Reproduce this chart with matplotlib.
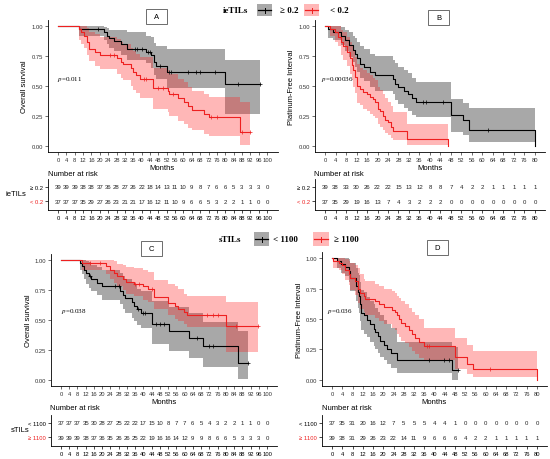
import numpy as np
import matplotlib
matplotlib.use("Agg")
import matplotlib.pyplot as plt
from matplotlib.patches import Rectangle

plt.rcParams['font.family'] = ['Liberation Sans', 'DejaVu Sans']
plt.rcParams['mathtext.fontset'] = 'stix'

W, H = 550, 460
RED = "#ee2020"
GREY_FILL = "#7a7a7a"
RED_FILL = "#ff2020"

# ---------------- Panel A : overall survival by ieTILs ----------------
a_hi_t = [0, 10, 22, 23.5, 24.5, 27, 30, 33, 42, 44.5, 46, 47, 52, 80]
a_hi_s = [1.0, 0.974, 0.948, 0.92, 0.897, 0.872, 0.846, 0.81, 0.78, 0.755, 0.70, 0.67, 0.62, 0.52]
a_hi_lo = [1.0, 0.92, 0.88, 0.85, 0.82, 0.79, 0.76, 0.72, 0.69, 0.65, 0.59, 0.56, 0.48, 0.27]
a_hi_up = [1.0, 1.0, 0.99, 0.98, 0.97, 0.97, 0.97, 0.95, 0.92, 0.91, 0.86, 0.83, 0.81, 0.72]
a_hi_end = 96.5
a_hi_cens = [19, 37, 38, 40, 43, 44, 49, 53, 54, 62, 66, 68, 75, 86, 96.5]

a_lo_t = [0, 10, 11, 12.5, 14, 15, 17.5, 20, 28, 30, 31, 35, 36, 37.5, 39, 45.5, 52.5, 53, 57.5,
          60.5, 62, 64, 70, 72, 87]
a_lo_s = [1.0, 0.973, 0.946, 0.919, 0.865, 0.811, 0.784, 0.757, 0.73, 0.70, 0.68, 0.65, 0.62, 0.59,
          0.56, 0.48, 0.46, 0.43, 0.40, 0.37, 0.33, 0.30, 0.27, 0.245, 0.12]
a_lo_lo = [1.0, 0.88, 0.85, 0.82, 0.755, 0.71, 0.67, 0.64, 0.60, 0.57, 0.55, 0.50, 0.47, 0.44, 0.40,
           0.31, 0.28, 0.25, 0.21, 0.18, 0.15, 0.13, 0.10, 0.08, 0.01]
a_lo_up = [1.0, 1.0, 1.0, 1.0, 0.98, 0.95, 0.93, 0.91, 0.89, 0.87, 0.85, 0.82, 0.79, 0.77, 0.74,
           0.65, 0.63, 0.60, 0.56, 0.53, 0.49, 0.46, 0.43, 0.41, 0.37]
a_lo_end = 92
a_lo_cens = [25, 27, 41, 42, 48, 50, 55, 73, 76, 88, 92]

# ---------------- Panel B : platinum-free interval by ieTILs ----------------
b_hi_t = [0, 1, 3, 6, 7.5, 9, 10.5, 11.3, 12.3, 13.5, 15, 17, 19, 26, 26.7, 28, 30, 31.7, 33, 34.5,
          48, 52.5, 55, 80]
b_hi_s = [1.0, 0.975, 0.952, 0.919, 0.88, 0.84, 0.80, 0.77, 0.73, 0.686, 0.658, 0.616, 0.588, 0.56,
          0.518, 0.49, 0.46, 0.434, 0.40, 0.37, 0.26, 0.22, 0.13, 0.0]
b_hi_lo = [1.0, 0.90, 0.88, 0.84, 0.79, 0.74, 0.70, 0.66, 0.62, 0.57, 0.54, 0.49, 0.46, 0.43, 0.38,
           0.35, 0.32, 0.29, 0.26, 0.24, 0.12, 0.09, 0.03, 0.0]
b_hi_up = [1.0, 1.0, 1.0, 0.99, 0.97, 0.95, 0.92, 0.90, 0.87, 0.83, 0.81, 0.77, 0.75, 0.72, 0.69,
           0.66, 0.63, 0.61, 0.57, 0.53, 0.39, 0.36, 0.32, 0.32]
b_hi_end = 80
b_hi_cens = [37.5, 38.5, 45, 62]

b_lo_t = [0, 2, 3.8, 5, 6, 7, 8.3, 9.5, 10.2, 10.8, 11.4, 12.3, 13.3, 14.6, 15.9, 17, 18.4, 19.2,
          20, 20.9, 22, 23, 24, 25, 26, 31.2, 47]
b_lo_s = [1.0, 0.973, 0.946, 0.91, 0.865, 0.83, 0.784, 0.73, 0.676, 0.63, 0.574, 0.50, 0.475, 0.45,
          0.43, 0.41, 0.39, 0.37, 0.31, 0.29, 0.25, 0.22, 0.196, 0.16, 0.126, 0.06, 0.0]
b_lo_lo = [1.0, 0.92, 0.87, 0.83, 0.76, 0.72, 0.67, 0.60, 0.55, 0.49, 0.44, 0.36, 0.34, 0.31, 0.29,
           0.27, 0.25, 0.23, 0.18, 0.16, 0.13, 0.11, 0.09, 0.07, 0.05, 0.01, 0.0]
b_lo_up = [1.0, 1.0, 1.0, 1.0, 0.97, 0.95, 0.91, 0.87, 0.83, 0.79, 0.74, 0.68, 0.65, 0.63, 0.61,
           0.59, 0.57, 0.55, 0.49, 0.47, 0.43, 0.40, 0.37, 0.33, 0.28, 0.18, 0.18]
b_lo_end = 47
b_lo_cens = []

# ---------------- Panel C : overall survival by sTILs ----------------
c_lo_t = [0, 9.4, 10.2, 11, 12.1, 13.4, 14.7, 17.5, 20, 28.8, 30, 31, 34.5, 35.3, 37, 38.8, 44.2,
          52.3, 62, 69, 86]
c_lo_s = [1.0, 0.973, 0.946, 0.92, 0.89, 0.865, 0.838, 0.81, 0.78, 0.74, 0.71, 0.68, 0.65, 0.62,
          0.59, 0.56, 0.47, 0.41, 0.35, 0.28, 0.14]
c_lo_lo = [1.0, 0.92, 0.88, 0.84, 0.80, 0.77, 0.74, 0.71, 0.67, 0.63, 0.59, 0.56, 0.52, 0.49, 0.46,
           0.43, 0.30, 0.24, 0.18, 0.11, 0.01]
c_lo_up = [1.0, 1.0, 1.0, 1.0, 0.99, 0.98, 0.96, 0.94, 0.92, 0.89, 0.87, 0.84, 0.81, 0.79, 0.76,
           0.74, 0.66, 0.61, 0.56, 0.48, 0.41]
c_lo_end = 91
c_lo_cens = [14, 26, 28, 37.5, 40, 41, 46, 48, 50, 66, 72, 74, 91]

c_hi_t = [0, 10, 22, 24, 25.5, 27, 30, 31.5, 35.5, 40, 42, 45, 52, 55.5, 57, 59.5, 61, 80]
c_hi_s = [1.0, 0.974, 0.948, 0.92, 0.895, 0.868, 0.845, 0.82, 0.80, 0.78, 0.76, 0.69, 0.645, 0.62,
          0.59, 0.565, 0.54, 0.45]
c_hi_lo = [1.0, 0.92, 0.88, 0.84, 0.81, 0.78, 0.75, 0.72, 0.70, 0.67, 0.65, 0.59, 0.54, 0.51,
           0.49, 0.47, 0.44, 0.23]
c_hi_up = [1.0, 1.0, 1.0, 1.0, 0.99, 0.97, 0.96, 0.94, 0.93, 0.92, 0.90, 0.83, 0.80, 0.78, 0.76,
           0.72, 0.70, 0.65]
c_hi_end = 95.5
c_hi_cens = [14, 19, 36, 38, 44, 71, 74, 76, 85, 95.5]

# ---------------- Panel D : platinum-free interval by sTILs ----------------
d_lo_t = [0, 2, 3.5, 5, 6.5, 7.2, 9.3, 10, 10.4, 11, 11.3, 12.4, 13.6, 15, 16.3, 16.9, 17.8, 18.9,
          20.2, 21.5, 23, 25.4, 46.8]
d_lo_s = [1.0, 0.973, 0.95, 0.93, 0.89, 0.84, 0.77, 0.72, 0.69, 0.62, 0.55, 0.53, 0.49, 0.46, 0.42,
          0.39, 0.36, 0.32, 0.29, 0.25, 0.22, 0.16, 0.08]
d_lo_lo = [1.0, 0.92, 0.88, 0.85, 0.80, 0.73, 0.65, 0.59, 0.55, 0.48, 0.41, 0.38, 0.35, 0.31, 0.28,
           0.25, 0.22, 0.19, 0.16, 0.13, 0.10, 0.06, 0.0]
d_lo_up = [1.0, 1.0, 1.0, 1.0, 0.99, 0.96, 0.92, 0.88, 0.86, 0.80, 0.74, 0.72, 0.68, 0.65, 0.62,
           0.59, 0.56, 0.53, 0.49, 0.46, 0.43, 0.31, 0.27]
d_lo_end = 49
d_lo_cens = [37.7, 43.6, 45.5, 49]

d_hi_t = [0, 0.3, 2.6, 3.9, 5.2, 6.5, 7.2, 9.1, 10, 11, 12.4, 13, 16.9, 18.2, 20.2, 23.4, 24.7,
          25.4, 26, 27, 28.6, 29.9, 31.2, 32.5, 33.8, 35.8, 48.1, 52.7, 54.9, 80]
d_hi_s = [1.0, 0.974, 0.962, 0.94, 0.90, 0.87, 0.84, 0.81, 0.75, 0.71, 0.69, 0.665, 0.65, 0.62,
          0.60, 0.574, 0.555, 0.53, 0.50, 0.47, 0.445, 0.41, 0.38, 0.34, 0.31, 0.275, 0.184, 0.13,
          0.088, 0.0]
d_hi_lo = [1.0, 0.92, 0.90, 0.87, 0.82, 0.78, 0.74, 0.70, 0.63, 0.58, 0.56, 0.53, 0.51, 0.48, 0.46,
           0.43, 0.41, 0.38, 0.35, 0.32, 0.30, 0.27, 0.24, 0.21, 0.18, 0.16, 0.09, 0.05, 0.02, 0.0]
d_hi_up = [1.0, 1.0, 1.0, 1.0, 0.99, 0.98, 0.96, 0.94, 0.92, 0.87, 0.83, 0.81, 0.79, 0.77, 0.75,
           0.73, 0.71, 0.69, 0.67, 0.65, 0.62, 0.59, 0.56, 0.53, 0.50, 0.43, 0.34, 0.29, 0.24, 0.24]
d_hi_end = 80
d_hi_cens = [37, 37.8, 61.8]

# ---------------- number at risk ----------------
risk_a = [[39, 39, 39, 38, 38, 37, 36, 28, 27, 26, 22, 18, 14, 13, 11, 10, 9, 8, 7, 6, 6, 5, 3, 3, 3, 0],
          [37, 37, 37, 35, 29, 27, 26, 23, 21, 21, 17, 16, 12, 11, 10, 9, 6, 6, 5, 3, 2, 2, 1, 1, 0, 0]]
risk_b = [[39, 38, 33, 30, 26, 22, 22, 15, 13, 12, 8, 8, 7, 4, 2, 2, 1, 1, 1, 1, 1],
          [37, 35, 29, 19, 16, 13, 7, 4, 3, 2, 2, 2, 0, 0, 0, 0, 0, 0, 0, 0, 0]]
risk_c = [[37, 37, 37, 35, 30, 28, 27, 25, 22, 22, 17, 15, 10, 8, 7, 7, 6, 5, 4, 3, 2, 2, 1, 1, 0, 0],
          [39, 39, 39, 38, 37, 36, 35, 26, 26, 25, 22, 19, 16, 16, 14, 12, 9, 9, 8, 6, 6, 5, 3, 3, 3, 0]]
risk_d = [[37, 35, 31, 20, 16, 12, 7, 5, 5, 5, 4, 4, 1, 0, 0, 0, 0, 0, 0, 0, 0],
          [39, 38, 31, 29, 26, 23, 22, 14, 11, 9, 6, 6, 6, 4, 2, 2, 1, 1, 1, 1, 1]]

ie_labels = ["\u2265 0.2", "< 0.2"]
s_labels = ["< 1100", "\u2265 1100"]


def px_axes(fig, x0, y0, x1, y1):
    return fig.add_axes([x0 / W, 1 - y1 / H, (x1 - x0) / W, (y1 - y0) / H])


def draw_curve(ax, t, s, lo, up, end, cens, color, fill, alpha):
    x = list(t) + [end]
    ax.fill_between(x, list(lo) + [lo[-1]], list(up) + [up[-1]], step='post',
                    color=fill, alpha=alpha, lw=0)
    return x


def draw_line(ax, t, s, end, cens, color):
    x = list(t) + [end]
    ax.plot(x, list(s) + [s[-1]], drawstyle='steps-post', color=color, lw=0.8)
    if cens:
        idx = np.searchsorted(t, cens, side='right') - 1
        ax.plot(cens, np.array(s)[idx], ls='none', marker='+', ms=2.5, mew=0.5, color=color)


def km_panel(ax, black, red, xmax, ylabel):
    draw_curve(ax, *black, 'k', GREY_FILL, 0.65)
    draw_curve(ax, *red, RED, RED_FILL, 0.32)
    draw_line(ax, black[0], black[1], black[4], black[5], 'black')
    draw_line(ax, red[0], red[1], red[4], red[5], RED)
    ax.set_xlim(-0.05 * xmax, 1.05 * xmax)
    ax.set_ylim(-0.05, 1.05)
    ax.set_xticks(np.arange(0, xmax + 1, 4))
    ax.set_yticks([0, 0.25, 0.5, 0.75, 1.0])
    ax.set_yticklabels(['0.00', '0.25', '0.50', '0.75', '1.00'])
    for sp in ['top', 'right']:
        ax.spines[sp].set_visible(False)
    for sp in ['left', 'bottom']:
        ax.spines[sp].set_linewidth(0.6)
    ax.tick_params(labelsize=4.2, length=2, width=0.5, pad=1.5, colors='#333333')
    ax.set_xlabel("Months", fontsize=5.5, labelpad=1.5)
    ax.set_ylabel(ylabel, fontsize=5.5, labelpad=2)


def risk_table(ax, xmax, rows, labels):
    ticks = np.arange(0, xmax + 1, 4)
    for i, vals in enumerate(rows):
        for x, v in zip(ticks, vals):
            ax.text(x, 1 - i, str(v), ha='center', va='center', fontsize=4.3, color='#222222')
    ax.set_xlim(-0.05 * xmax, 1.05 * xmax)
    ax.set_ylim(-0.64, 1.57)
    ax.set_xticks(ticks)
    ax.set_yticks([1, 0])
    ax.set_yticklabels(labels, fontsize=3.2)
    ax.get_yticklabels()[1].set_color(RED)
    for sp in ['top', 'right']:
        ax.spines[sp].set_visible(False)
    for sp in ['left', 'bottom']:
        ax.spines[sp].set_linewidth(0.6)
    ax.tick_params(labelsize=4.2, length=2, width=0.5, pad=1.5)
    ax.set_facecolor('none')


fig = plt.figure(figsize=(5.5, 4.6), dpi=100)

axA = px_axes(fig, 47.5, 21, 277.5, 153)
km_panel(axA, (a_hi_t, a_hi_s, a_hi_lo, a_hi_up, a_hi_end, a_hi_cens),
         (a_lo_t, a_lo_s, a_lo_lo, a_lo_up, a_lo_end, a_lo_cens), 100, "Overall survival")
axB = px_axes(fig, 314.5, 21, 545.5, 153)
km_panel(axB, (b_hi_t, b_hi_s, b_hi_lo, b_hi_up, b_hi_end, b_hi_cens),
         (b_lo_t, b_lo_s, b_lo_lo, b_lo_up, b_lo_end, b_lo_cens), 80, "Platinum-Free Interval")
axC = px_axes(fig, 50.7, 255, 277.3, 387)
km_panel(axC, (c_lo_t, c_lo_s, c_lo_lo, c_lo_up, c_lo_end, c_lo_cens),
         (c_hi_t, c_hi_s, c_hi_lo, c_hi_up, c_hi_end, c_hi_cens), 100, "Overall survival")
axD = px_axes(fig, 321.8, 253, 547.2, 387)
km_panel(axD, (d_lo_t, d_lo_s, d_lo_lo, d_lo_up, d_lo_end, d_lo_cens),
         (d_hi_t, d_hi_s, d_hi_lo, d_hi_up, d_hi_end, d_hi_cens), 80, "Platinum-Free Interval")

tA = px_axes(fig, 47.5, 180, 277.5, 211)
risk_table(tA, 100, risk_a, ie_labels)
tB = px_axes(fig, 314.5, 180, 545.5, 211)
risk_table(tB, 80, risk_b, ie_labels)
tC = px_axes(fig, 50.7, 416, 277.3, 447)
risk_table(tC, 100, risk_c, s_labels)
tD = px_axes(fig, 321.8, 416, 547.2, 447)
risk_table(tD, 80, risk_d, s_labels)

# overlay in pixel coordinates for legends, panel letters and notes
ov = fig.add_axes([0, 0, 1, 1])
ov.set_xlim(0, W)
ov.set_ylim(H, 0)
ov.axis('off')
ov.patch.set_visible(False)

serif = ['Liberation Serif', 'DejaVu Serif']

for (x, y, letter) in [(146, 10, "A"), (428, 11, "B"), (141, 242, "C"), (427, 241, "D")]:
    ov.add_patch(Rectangle((x, y), 21, 14.5, fill=False, ec='#555555', lw=0.6))
    ov.text(x + 10.5, y + 7.5, letter, ha='center', va='center', fontsize=5.5)

for (x, y, txt) in [(57, 79, "0.011"), (321, 79, "0.00036"), (61, 312, "0.038"), (327, 312, "0.036")]:
    ov.text(x, y, r"$\mathit{p}$=" + txt, ha='left', va='center', fontsize=5, family=serif)

for (x, y) in [(48, 175), (314, 175), (50, 409), (322, 409)]:
    ov.text(x, y, "Number at risk", ha='left', va='center', fontsize=5.5)

ov.text(16, 195, "ieTILs", ha='center', va='center', fontsize=5.5)
ov.text(20, 431, "sTILs", ha='center', va='center', fontsize=5.5)


def legend_key(x, y, w, h, fill, alpha, color):
    ov.add_patch(Rectangle((x, y), w, h, color=fill, alpha=alpha, lw=0))
    ov.plot([x + 1, x + w - 1], [y + h / 2, y + h / 2], color=color, lw=0.9)
    ov.plot([x + w / 2, x + w / 2], [y + h / 2 - 2.5, y + h / 2 + 2.5], color=color, lw=0.7)


# ieTILs legend
ov.text(236, 11, "ieTILs", ha='center', va='center', fontsize=6.5, weight='bold', family=serif)
legend_key(257, 5, 15, 12, GREY_FILL, 0.65, 'black')
ov.text(280, 11, ie_labels[0], ha='left', va='center', fontsize=6.5, weight='bold', family=serif)
legend_key(304, 5, 15, 12, RED_FILL, 0.32, RED)
ov.text(330, 11, ie_labels[1], ha='left', va='center', fontsize=6.5, weight='bold', family=serif)

# sTILs legend
ov.text(230, 240, "sTILs", ha='center', va='center', fontsize=6.5, weight='bold', family=serif)
legend_key(254, 233, 15, 14, GREY_FILL, 0.65, 'black')
ov.text(273, 240, s_labels[0], ha='left', va='center', fontsize=6.5, weight='bold', family=serif)
legend_key(313, 233, 16, 14, RED_FILL, 0.32, RED)
ov.text(334, 240, s_labels[1], ha='left', va='center', fontsize=6.5, weight='bold', family=serif)

fig.savefig("out.png", dpi=100, facecolor='white')
